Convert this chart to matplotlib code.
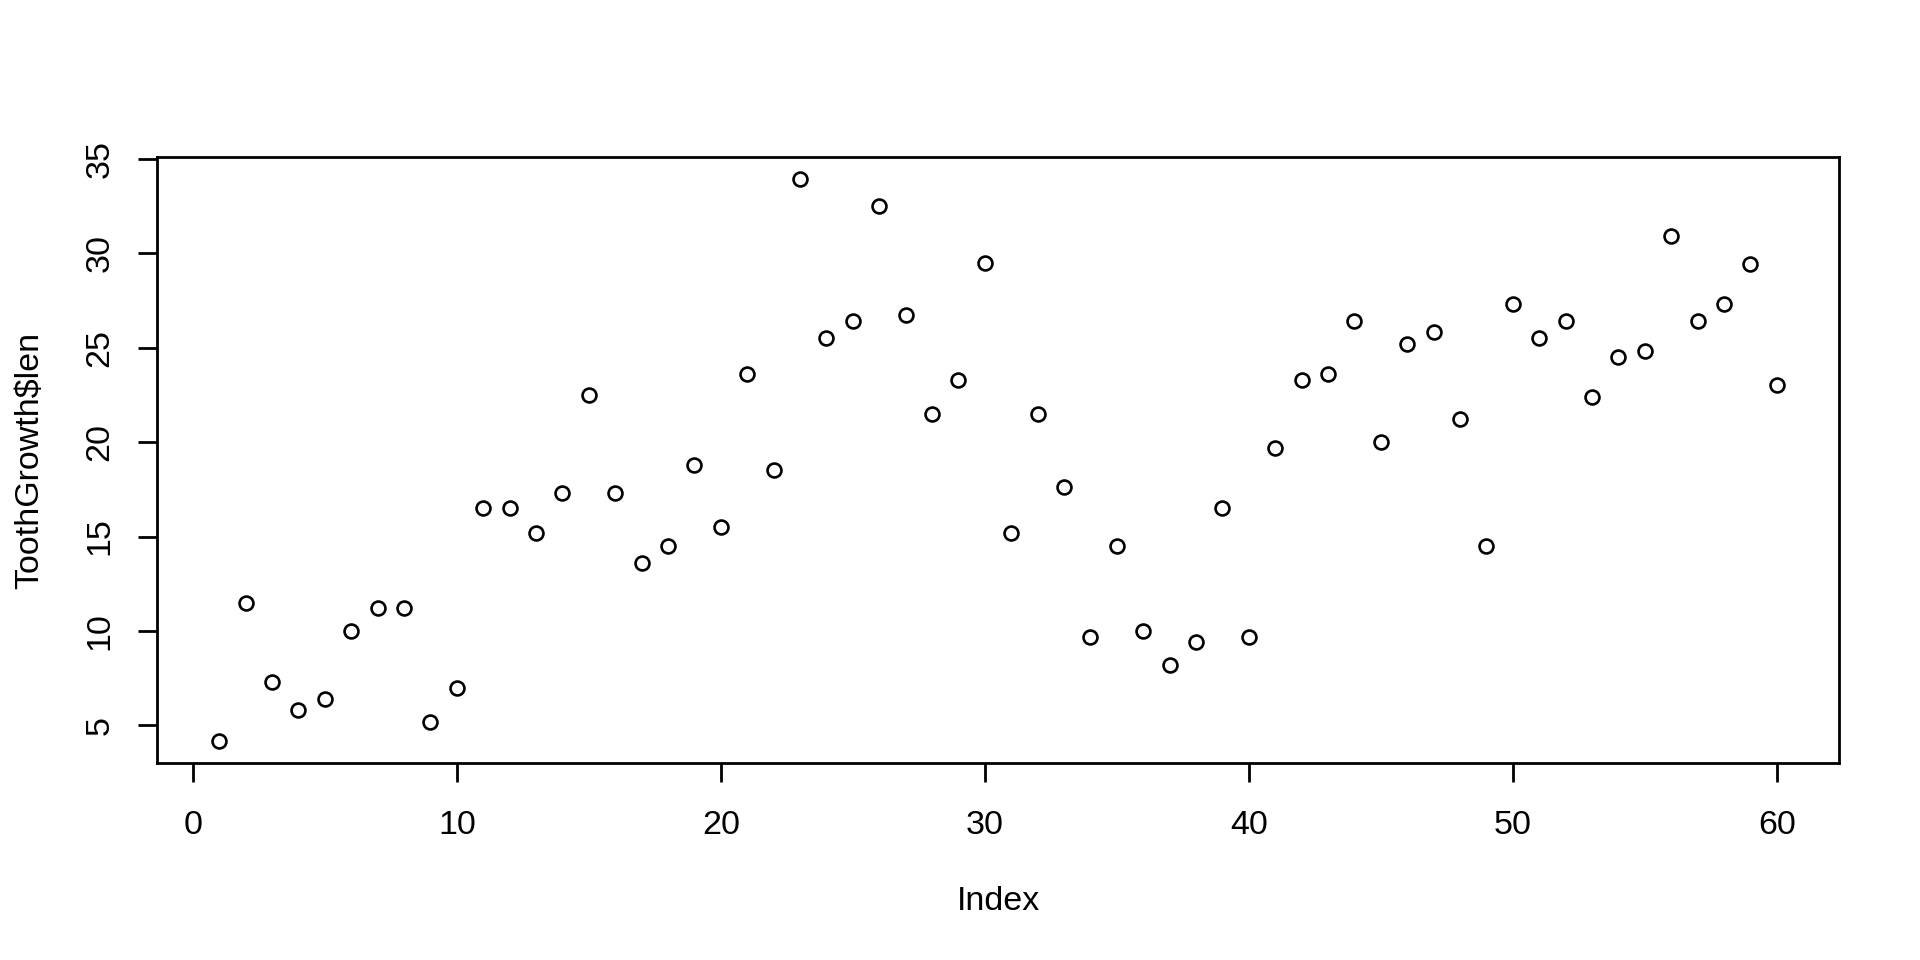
import matplotlib
matplotlib.use("Agg")
import matplotlib.pyplot as plt

# ToothGrowth$len, plotted against its index
tooth_len = [4.2, 11.5, 7.3, 5.8, 6.4, 10.0, 11.2, 11.2, 5.2, 7.0,
             16.5, 16.5, 15.2, 17.3, 22.5, 17.3, 13.6, 14.5, 18.8, 15.5,
             23.6, 18.5, 33.9, 25.5, 26.4, 32.5, 26.7, 21.5, 23.3, 29.5,
             15.2, 21.5, 17.6, 9.7, 14.5, 10.0, 8.2, 9.4, 16.5, 9.7,
             19.7, 23.3, 23.6, 26.4, 20.0, 25.2, 25.8, 21.2, 14.5, 27.3,
             25.5, 26.4, 22.4, 24.5, 24.8, 30.9, 26.4, 27.3, 29.4, 23.0]
index = list(range(1, len(tooth_len) + 1))

x_ticks = [0, 10, 20, 30, 40, 50, 60]
y_ticks = [5, 10, 15, 20, 25, 30, 35]

plt.rcParams.update({
    "font.family": ["Liberation Sans", "DejaVu Sans"],
    "font.size": 24.5,
})

fig = plt.figure(figsize=(19.2, 9.6), dpi=100)
ax = fig.add_axes([157 / 1920, 1 - 763 / 960, (1839 - 157) / 1920, (763 - 157) / 960])

ax.plot(index, tooth_len, linestyle="none", marker="o", markersize=10,
        markerfacecolor="none", markeredgecolor="black", markeredgewidth=1.9)

# R-style 4% axis expansion
xr = max(index) - min(index)
yr = max(tooth_len) - min(tooth_len)
ax.set_xlim(min(index) - 0.04 * xr, max(index) + 0.04 * xr)
ax.set_ylim(min(tooth_len) - 0.04 * yr, max(tooth_len) + 0.04 * yr)

ax.set_xticks(x_ticks)
ax.set_yticks(y_ticks)
ax.tick_params(direction="out", length=14, width=2)
ax.tick_params(axis="x", pad=20)
ax.tick_params(axis="y", pad=16)
for lbl in ax.get_yticklabels():
    lbl.set_rotation(90)
    lbl.set_va("center")

for s in ax.spines.values():
    s.set_linewidth(2)

ax.set_xlabel("Index", labelpad=32)
ax.set_ylabel("ToothGrowth$len", labelpad=28)

fig.savefig("out.png", dpi=100)
